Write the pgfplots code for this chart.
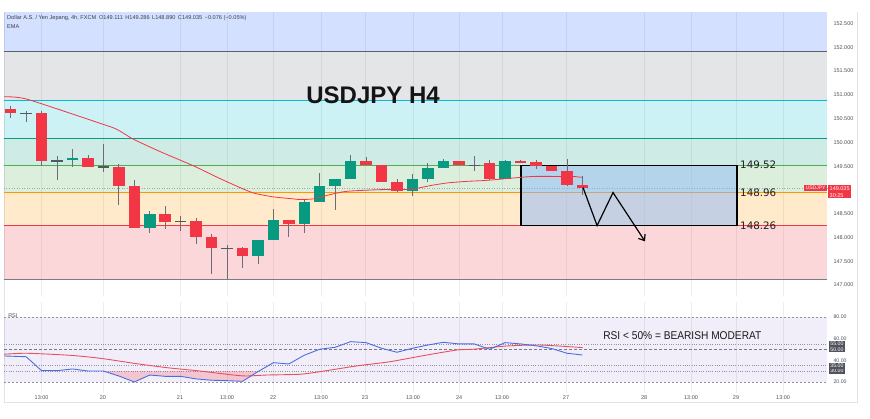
\documentclass[border=0pt]{standalone}
\usepackage{fontspec}
\setmainfont{Liberation Sans}
\newfontfamily\dejavu{DejaVu Sans}
\newfontfamily\narrowsans[FakeStretch=0.9]{Liberation Sans}
\usepackage{pgfplots}
\usepackage{pgfplotstable}
\pgfplotsset{compat=1.18}
\usetikzlibrary{arrows.meta}
\definecolor{cRed}{HTML}{F23645}
\definecolor{cGreen}{HTML}{089981}
\definecolor{cWick}{HTML}{6A6D78}
\definecolor{cDoji}{HTML}{4F5B5E}
\definecolor{fGray}{HTML}{787B86}
\definecolor{fRed}{HTML}{F23645}
\definecolor{fOrange}{HTML}{FF9800}
\definecolor{fGreen}{HTML}{4CAF50}
\definecolor{fTeal}{HTML}{089981}
\definecolor{fCyan}{HTML}{00BCD4}
\definecolor{fOne}{HTML}{5D606B}
\definecolor{fBlue}{HTML}{2962FF}
\definecolor{tvText}{HTML}{50535E}
\definecolor{tvDark}{HTML}{50535E}
\definecolor{hdText}{HTML}{3B3F4A}
\definecolor{rsiBlue}{HTML}{4A6EE0}
\definecolor{rsiMA}{HTML}{E8505F}
\definecolor{rsiBg}{HTML}{7E57C2}
\definecolor{boxFill}{HTML}{8CB9F9}
\definecolor{frameC}{HTML}{E0E3EB}

\pgfplotstableread{
x c e
0 150.66 0.04
2 150.115 0.505
5 149.585 0.095
7 149.285 0.205
8 148.635 0.445
10 148.415 0.085
12 148.18 0.16
13 147.895 0.125
15 147.69 0.08
18 148.32 0.04
23 149.56 0.04
24 149.345 0.175
25 149.07 0.10
29 149.565 0.035
31 149.405 0.165
33 149.595 0.015
34 149.545 0.035
35 149.45 0.06
36 149.245 0.145
37 149.073 0.038
}\redbody

\pgfplotstableread{
x c e
4 149.655 0.025
9 148.345 0.155
16 147.78 0.17
17 148.155 0.205
19 148.51 0.23
20 148.915 0.175
21 149.155 0.065
22 149.41 0.19
26 149.095 0.125
27 149.34 0.12
28 149.53 0.07
32 149.425 0.185
}\greenbody

\pgfplotstableread{
x c e
1 150.61 0.011
3 149.61 0.011
6 149.49 0.011
11 148.34 0.011
14 147.77 0.011
30 149.52 0.011
}\dojibody

\pgfplotstableread{
x c e
0 150.635 0.125
1 150.545 0.115
2 150.085 0.575
3 149.46 0.26
4 149.675 0.185
5 149.615 0.125
6 149.675 0.295
7 149.115 0.435
8 148.695 0.505
9 148.325 0.225
10 148.425 0.245
11 148.29 0.16
12 148.135 0.275
13 147.66 0.42
14 147.48 0.36
15 147.57 0.22
16 147.695 0.255
17 148.27 0.32
18 148.19 0.17
19 148.445 0.355
20 149.05 0.31
21 148.895 0.325
22 149.48 0.26
23 149.605 0.085
24 149.345 0.175
25 149.095 0.145
26 149.11 0.23
27 149.365 0.205
28 149.56 0.10
29 149.565 0.035
30 149.555 0.155
31 149.415 0.215
32 149.43 0.20
33 149.60 0.03
34 149.53 0.09
35 149.45 0.06
36 149.37 0.29
37 149.088 0.198
}\wicks

\pgfplotstableread{
x v
-0.43 150.958
1.04 150.910
5.78 150.402
6.86 150.276
7.94 150.067
9.66 149.808
11.82 149.508
13.33 149.272
14.41 149.111
15.70 148.937
17.00 148.854
18.29 148.812
18.72 148.797
19.57 148.812
20.67 148.902
21.75 148.971
23.90 149.006
24.98 149.006
26.06 149.021
27.14 149.090
28.22 149.146
29.51 149.180
30.81 149.201
32.53 149.251
33.83 149.284
35.34 149.284
36.41 149.284
36.96 149.264
}\ema

\pgfplotstableread{
x v
-0.43 44.0
1 43.3
2 30.4
3 30.4
4 32.0
5 30.1
6 30.1
7 25.5
8 20.0
9 26.4
10 25.2
11 25.2
12 22.8
13 21.6
14 21.2
15 20.6
16 29.5
17 37.8
18 36.6
19 44.7
20 50.2
21 52.0
22 57.2
23 56.3
24 51.1
25 47.4
26 51.1
27 54.1
28 56.6
29 55.1
30 55.1
31 50.2
32 56.3
33 55.1
34 53.4
35 50.9
36 46.5
37 44.9
}\rsi

\pgfplotstableread{
x v
6.02 30
7 25.5
8 20.0
9 26.4
10 25.2
11 25.2
12 22.8
13 21.6
14 21.2
15 20.6
16 29.5
16.06 30
}\rsilow

\pgfplotstableread{
x v
-0.43 45.6
1.04 46.5
3.84 44.6
5.78 41.9
7.94 37.3
10.10 33.2
12.25 30.1
14.41 26.4
15.28 25.5
16.57 26.4
18.72 27.1
20.02 29.5
22.39 34.8
24.55 38.7
26.71 44.3
28.87 49.5
29.94 50.2
32.10 53.2
34.26 54.1
37.02 51.7
}\rsima

\begin{document}
\begin{tikzpicture}
\path[use as bounding box] (0,0) rectangle (870pt,419pt);
\draw[frameC, line width=0.6pt] (4pt,407pt) -- (4pt,17pt) -- (857pt,17pt) -- (857pt,407pt);

% ---------------- main price panel ----------------
\begin{axis}[
  at={(4pt,123pt)}, anchor=south west,
  scale only axis, width=823pt, height=284pt,
  xmin=-0.434, xmax=52.83, ymin=146.769, ymax=152.743,
  axis line style={draw=none},
  tick style={draw=none},
  xtick={2,5.97,10.96,14,16.98,20.08,22.93,26.04,29.02,31.8,35.94,40.99,44.03,46.94,49.99},
  xticklabels={},
  xmajorgrids,
  grid style={black!7, line width=0.6pt},
  ytick={147,147.5,148,148.5,149.5,150,150.5,151,151.5,152,152.5},
  yticklabel pos=right,
  /pgf/number format/assume math mode=true,
  yticklabel style={anchor=west, xshift=3pt, font=\fontsize{5.5}{6}\selectfont, text=tvText,
     /pgf/number format/fixed, /pgf/number format/fixed zerofill, /pgf/number format/precision=3},
  clip=false,
  candle/.style={draw=none, mark=none, forget plot, error bars/y dir=both, error bars/y explicit, error bars/error mark=none},
]
% fib bands
\addplot[draw=none, fill=fRed, fill opacity=0.2] coordinates {(-0.434,147.12) (52.83,147.12) (52.83,148.25) (-0.434,148.25)};
\addplot[draw=none, fill=fOrange, fill opacity=0.2] coordinates {(-0.434,148.25) (52.83,148.25) (52.83,148.95) (-0.434,148.95)};
\addplot[draw=none, fill=fGreen, fill opacity=0.2] coordinates {(-0.434,148.95) (52.83,148.95) (52.83,149.515) (-0.434,149.515)};
\addplot[draw=none, fill=fTeal, fill opacity=0.2] coordinates {(-0.434,149.515) (52.83,149.515) (52.83,150.08) (-0.434,150.08)};
\addplot[draw=none, fill=fCyan, fill opacity=0.2] coordinates {(-0.434,150.08) (52.83,150.08) (52.83,150.885) (-0.434,150.885)};
\addplot[draw=none, fill=fGray, fill opacity=0.2] coordinates {(-0.434,150.885) (52.83,150.885) (52.83,151.91) (-0.434,151.91)};
\addplot[draw=none, fill=fBlue, fill opacity=0.2] coordinates {(-0.434,151.91) (52.83,151.91) (52.83,152.743) (-0.434,152.743)};
% fib lines
\addplot[fGray, line width=0.9pt] coordinates {(-0.434,147.12) (52.83,147.12)};
\addplot[fRed, line width=0.9pt] coordinates {(-0.434,148.25) (52.83,148.25)};
\addplot[fOrange, line width=0.9pt] coordinates {(-0.434,148.95) (52.83,148.95)};
\addplot[fGreen, line width=0.9pt] coordinates {(-0.434,149.515) (52.83,149.515)};
\addplot[fTeal, line width=0.9pt] coordinates {(-0.434,150.08) (52.83,150.08)};
\addplot[fCyan, line width=0.9pt] coordinates {(-0.434,150.885) (52.83,150.885)};
\addplot[fOne, line width=0.9pt] coordinates {(-0.434,151.91) (52.83,151.91)};
% current price line
\addplot[gray!70, line width=0.5pt, dash pattern=on 1pt off 1.5pt] coordinates {(-0.434,149.035) (52.83,149.035)};
% projection box (behind candles)
\addplot[draw=black, line width=1.2pt, fill=boxFill, fill opacity=0.5] coordinates {(33.03,148.25) (47.01,148.25) (47.01,149.515) (33.03,149.515) (33.03,148.25)};
% wicks
\addplot[candle, error bars/error bar style={draw=cWick, solid, line width=0.8pt}] table[x=x, y=c, y error=e] {\wicks};
% bodies
\addplot[candle, error bars/error bar style={draw=cRed, solid, line width=11.5pt}] table[x=x, y=c, y error=e] {\redbody};
\addplot[candle, error bars/error bar style={draw=cGreen, solid, line width=11.5pt}] table[x=x, y=c, y error=e] {\greenbody};
\addplot[candle, error bars/error bar style={draw=cDoji, solid, line width=11.5pt}] table[x=x, y=c, y error=e] {\dojibody};
% EMA
\addplot[cRed, line width=0.8pt, smooth, tension=0.4] table[x=x, y=v] {\ema};
% zigzag
\addplot[black, line width=1.2pt, -{Straight Barb[length=5pt,width=8pt]}] coordinates {(37.04,149.05) (37.95,148.25) (38.98,148.945) (41.05,147.92)};
% texts
\node[font=\fontsize{24}{28}\selectfont\bfseries, text=black!92] at (axis cs:23.45,151.0) {USDJPY H4};
\node[font=\dejavu\fontsize{10.3}{12}\selectfont, anchor=west, inner sep=0pt, text=black!88] at (axis cs:47.2,149.535) {149.52};
\node[font=\dejavu\fontsize{10.3}{12}\selectfont, anchor=west, inner sep=0pt, text=black!88] at (axis cs:47.2,148.95) {148.96};
\node[font=\dejavu\fontsize{10.3}{12}\selectfont, anchor=west, inner sep=0pt, text=black!88] at (axis cs:47.2,148.24) {148.26};
\node[font=\fontsize{5.6}{6.5}\selectfont, anchor=west, inner sep=0pt, text=hdText] at (axis cs:-0.24,152.617) {Dollar A.S. / Yen Jepang, 4h, FXCM\enspace O149.111\, H149.286\, L148.890\, C149.035\, −0.076 (−0.05\%)};
\node[font=\fontsize{5.6}{6.5}\selectfont, anchor=west, inner sep=0pt, text=hdText] at (axis cs:-0.24,152.43) {EMA};
\node[font=\fontsize{5}{5.5}\selectfont, anchor=north east, inner sep=1.3pt, fill=cRed, text=white] at (axis cs:52.83,149.104) {USDJPY};
\node[font=\fontsize{5.5}{6.6}\selectfont, anchor=north west, inner sep=1.4pt, fill=cRed, text=white, align=left] at (axis cs:52.9,149.104) {149.035\\30:25};
\end{axis}

% ---------------- RSI panel ----------------
\begin{axis}[
  at={(4pt,26.2pt)}, anchor=south west,
  scale only axis, width=823pt, height=91pt,
  xmin=-0.434, xmax=52.83, ymin=10, ymax=94,
  axis line style={draw=none},
  tick style={draw=none},
  xtick={2,5.97,10.96,14,16.98,20.08,22.93,26.04,29.02,31.8,35.94,40.99,44.03,46.94,49.99},
  xticklabels={13:00,20,21,13:00,22,13:00,23,13:00,24,13:00,27,28,13:00,29,13:00},
  xticklabel style={font=\fontsize{5.5}{6}\selectfont, text=tvText, yshift=1pt},
  xmajorgrids,
  grid style={black!7, line width=0.6pt},
  ytick={20,40,60,80},
  yticklabel pos=right,
  /pgf/number format/assume math mode=true,
  yticklabel style={anchor=west, xshift=3pt, font=\fontsize{5.2}{6}\selectfont, text=tvText,
     /pgf/number format/fixed, /pgf/number format/fixed zerofill, /pgf/number format/precision=2},
  extra y ticks={30,35,50,55},
  extra y tick style={yticklabel style={fill=tvDark, text=white, inner sep=1.2pt, xshift=-1pt}},
  clip=false,
]
\addplot[draw=none, fill=rsiBg, fill opacity=0.1] coordinates {(-0.434,20) (52.83,20) (52.83,80) (-0.434,80)};
\addplot[fGray!80, line width=0.6pt, dash pattern=on 2pt off 2pt] coordinates {(-0.434,80) (52.83,80)};
\addplot[fGray!80, line width=0.6pt, dash pattern=on 2pt off 2pt] coordinates {(-0.434,20) (52.83,20)};
\addplot[fGray, line width=0.6pt, dash pattern=on 3pt off 2pt] coordinates {(-0.434,50) (52.83,50)};
\addplot[fGray!80, line width=0.6pt, dash pattern=on 0.8pt off 1.5pt] coordinates {(-0.434,55) (52.83,55)};
\addplot[fGray!80, line width=0.6pt, dash pattern=on 0.8pt off 1.5pt] coordinates {(-0.434,35) (52.83,35)};
\addplot[fGray!80, line width=0.6pt, dash pattern=on 0.8pt off 1.5pt] coordinates {(-0.434,30) (52.83,30)};
\addplot[draw=none, fill=cRed, fill opacity=0.22] table[x=x, y=v] {\rsilow};
\addplot[rsiMA, line width=0.9pt, smooth, tension=0.4] table[x=x, y=v] {\rsima};
\addplot[rsiBlue, line width=0.9pt] table[x=x, y=v] {\rsi};
\node[font=\fontsize{5.5}{6}\selectfont, anchor=west, inner sep=0pt, text=tvText] at (axis cs:-0.17,81) {RSI};
\node[font=\narrowsans\fontsize{11.3}{13}\selectfont, anchor=west, inner sep=0pt, text=black!90] at (axis cs:38.34,62.5) {RSI < 50\% = BEARISH MODERAT};
\end{axis}
\end{tikzpicture}
\end{document}
